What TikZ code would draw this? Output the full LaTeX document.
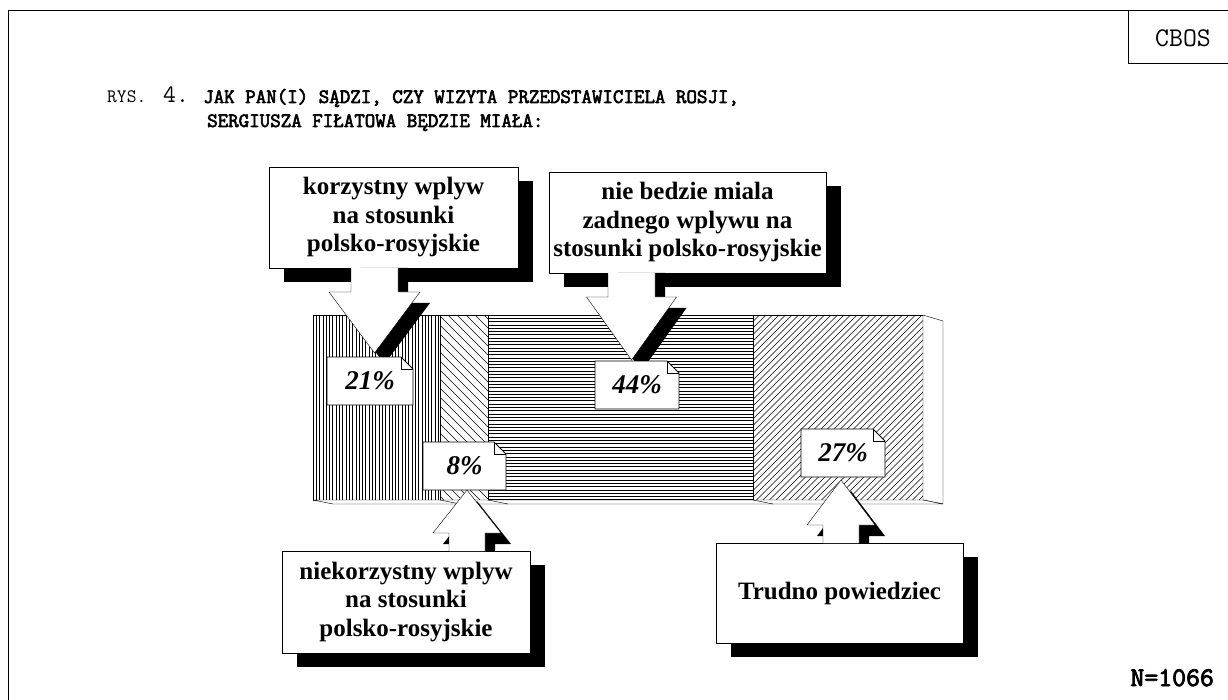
\documentclass[tikz,border=0pt]{standalone}
\usepackage{fontspec}
\setmainfont{Liberation Serif}
\newfontfamily\boldmono[FakeBold=3]{Latin Modern Mono}
\usepackage{tikz}
\usetikzlibrary{shadows}

\tikzstyle{callout} = [draw, fill=white, text centered, align=center, inner sep=0pt,
    font=\bfseries\fontsize{25}{28.5}\selectfont,
    drop shadow={shadow xshift=15pt, shadow yshift=-14pt, fill=black, opacity=1}]
\tikzstyle{pct} = [font=\bfseries\itshape\fontsize{27}{27}\selectfont]
\tikzstyle{hatch} = [line width=0.7pt]

% block arrow: x, y at box, y of head, y of tip, half shaft, half head
\newcommand{\blockarrow}[6]{
    \fill[black] (#1+#5+10,#2) -- (#1+#5+10,#3+11) -- (#1+#6+10,#3+11) -- (#1+10,#4+11)
        -- (#1-#6+10,#3+11) -- (#1-#5+10,#3+11) -- (#1-#5+10,#2) -- cycle;
    \filldraw[fill=white] (#1+#5,#2) -- (#1+#5,#3) -- (#1+#6,#3) -- (#1,#4)
        -- (#1-#6,#3) -- (#1-#5,#3) -- (#1-#5,#2);
}
% label with folded corner
\newcommand{\pctbox}[6]{
    \filldraw[fill=white, line width=0.8pt] (#2,#3) -- (#4-12,#3) -- (#4,#3+12) -- (#4,#5) -- (#2,#5) -- cycle;
    \draw (#4-12,#3) -- (#4-12,#3+12) -- (#4,#3+12);
    \node[pct] (#1) at ({(#2+#4)/2},{(#3+#5)/2}) {#6};
}

\begin{document}
\begin{tikzpicture}[x=1pt, y=-1pt]
    \useasboundingbox (0,0) rectangle (1228,700);

    % frame and header
    \draw[line width=0.8pt] (8,700) -- (8,10) -- (1228,10);
    \draw[line width=0.8pt] (1128,10) -- (1128,63) -- (1228,63);
    \node (cbos) at (1183,38) {\ttfamily\fontsize{27}{27}\selectfont CBOS};
    \node[anchor=base west, inner sep=0pt] (rys) at (107,103) {\ttfamily\fontsize{19}{19}\selectfont RYS.};
    \node[anchor=base west, inner sep=0pt] (nr) at (163,103) {\ttfamily\fontsize{25}{25}\selectfont 4.};
    \node[anchor=base west, inner sep=0pt] (title1) at (203,103)
        {\boldmono\fontsize{20.4}{20.4}\selectfont JAK PAN(I) SĄDZI, CZY WIZYTA PRZEDSTAWICIELA ROSJI,};
    \node[anchor=base west, inner sep=0pt] (title2) at (207,127)
        {\boldmono\fontsize{20.4}{20.4}\selectfont SERGIUSZA FIŁATOWA BĘDZIE MIAŁA:};
    \node[anchor=base east, inner sep=0pt] (n) at (1214,686)
        {\boldmono\fontsize{27}{27}\selectfont N=1066};

    % bar
    \begin{scope}
        \clip (313,315) rectangle (440,500);
        \foreach \x in {313,316.3,...,440} \draw[hatch] (\x,315) -- (\x,500);
    \end{scope}
    \begin{scope}
        \clip (440,315) rectangle (488,500);
        \foreach \x in {250,259,...,488} \draw[line width=0.5pt] (\x,315) -- ++(185,185);
    \end{scope}
    \begin{scope}
        \clip (488,315) rectangle (753,500);
        \foreach \y in {315,318.3,...,500} \draw[hatch] (488,\y) -- (753,\y);
    \end{scope}
    \begin{scope}
        \clip (753,315) rectangle (923,500);
        \foreach \x in {753,759.5,...,1110} \draw[line width=0.5pt] (\x,315) -- ++(-185,185);
    \end{scope}
    \draw (313,315) rectangle (923,500);
    \foreach \x in {440,488,753} \draw (\x,315) -- (\x,500);
    \draw[fill=white] (923,315) -- (943,321) -- (943,504) -- (923,500) -- cycle;
    \draw[fill=white] (313,500) -- (923,500) -- (943,504) -- (333,504) -- cycle;
    \foreach \x in {440,488,753} \draw (\x,500) -- ++(20,4);

    % callouts
    \node[callout, minimum width=249, minimum height=101] (kor) at (393.5,217.5)
        {korzystny wplyw\\na stosunki\\polsko-rosyjskie};
    \node[callout, minimum width=277, minimum height=101] (nie) at (687.5,222.5)
        {nie bedzie miala\\zadnego wplywu na\\stosunki polsko-rosyjskie};
    \node[callout, minimum width=248, minimum height=102] (niekor) at (406,602)
        {niekorzystny wplyw\\na stosunki\\polsko-rosyjskie};
    \node[callout, minimum width=247, minimum height=100] (trud) at (839.5,593)
        {Trudno powiedziec};

    \blockarrow{374.5}{268}{292}{353}{23.5}{45.5}
    \blockarrow{631.5}{273}{297}{360}{23.5}{45}
    \blockarrow{467}{551}{533}{490}{18}{34}
    \blockarrow{841}{543}{525}{480}{18}{34}

    \pctbox{p21}{327}{357}{413}{405}{21\%}
    \pctbox{p44}{595}{361}{679}{409}{44\%}
    \pctbox{p8}{423}{442}{506}{490}{8\%}
    \pctbox{p27}{801}{429}{885}{477}{27\%}
\end{tikzpicture}
\end{document}
